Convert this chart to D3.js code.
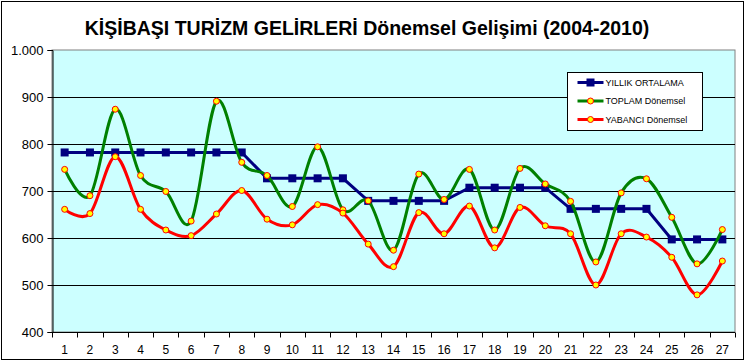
<!DOCTYPE html>
<html>
<head>
<meta charset="utf-8">
<script src="https://cdn.jsdelivr.net/npm/d3@7"></script>
<style>
  body { margin: 0; background: #fff; }
  text { font-family: "Liberation Sans", Arial, sans-serif; }
</style>
</head>
<body>
<div id="chart"></div>
<script>
var periods = d3.range(1, 28);
var yillik = [782, 782, 782, 782, 782, 782, 782, 782,
  727, 727, 727, 727,
  679, 679, 679, 679,
  707, 707, 707, 707,
  662, 662, 662, 662,
  597, 597, 597];
var toplam = [746, 690, 874, 733, 699, 636, 891, 761, 733, 667, 794, 660, 679, 574,
  736, 682, 746, 617, 748, 715, 678, 549, 696, 726, 644, 545, 618];
var yabanci = [661, 652, 773, 661, 617, 605, 651, 701, 640, 628, 671, 653, 587, 539,
  654, 609, 668, 579, 665, 626, 609, 500, 609, 602, 559, 479, 551];
var yTicks = [400, 500, 600, 700, 800, 900, 1000];
var seriesNames = ["YILLIK ORTALAMA", "TOPLAM Dönemsel", "YABANCI Dönemsel"];
var seriesColors = ["#000080", "#008000", "#ff0000"];

var svgWidth = 746;
var svgHeight = 362;
var margin = { top: 50, right: 11, bottom: 30, left: 52 };
var width = 735 - margin.left;
var height = 332 - margin.top;

var svg = d3.select("#chart").append("svg")
  .attr("width", svgWidth)
  .attr("height", svgHeight);

// outer frame
svg.append("rect")
  .attr("x", 1.5).attr("y", 1.5)
  .attr("width", 742).attr("height", 358)
  .attr("fill", "#fff").attr("stroke", "#000").attr("stroke-width", 1);

svg.append("text")
  .attr("x", 367).attr("y", 35)
  .attr("text-anchor", "middle")
  .style("font-size", "19.5px")
  .style("font-weight", "bold")
  .text("KİŞİBAŞI TURİZM GELİRLERİ Dönemsel Gelişimi (2004-2010)");

var g = svg.append("g")
  .attr("transform", `translate(${margin.left}, ${margin.top})`);

var x = d3.scaleBand().domain(periods).range([0, width]);
var y = d3.scaleLinear().domain([400, 1000]).range([height, 0]);

// plot area
g.append("rect")
  .attr("width", width).attr("height", height)
  .attr("fill", "#ccffff").attr("stroke", "#808080").attr("stroke-width", 1);

// grid lines
g.selectAll(".grid")
  .data(yTicks.filter(d => d > 400 && d < 1000))
  .enter().append("line")
  .attr("x1", 0).attr("x2", width)
  .attr("y1", d => Math.round(y(d)) + 0.5).attr("y2", d => Math.round(y(d)) + 0.5)
  .attr("stroke", "#000").attr("stroke-width", 1);

// y axis
var yAxis = g.append("g")
  .attr("transform", "translate(0.5,0)")
  .call(d3.axisLeft(y).tickValues(yTicks).tickSize(5).tickPadding(4)
    .tickFormat(d => d3.format(",")(d).replace(",", ".")));
yAxis.select(".domain").attr("stroke", "#000");
yAxis.selectAll("text").style("font-size", "13px").attr("fill", "#000");

// x axis with ticks between categories
var xAxis = g.append("g")
  .attr("transform", `translate(0, ${height + 0.5})`);
xAxis.append("line")
  .attr("x1", 0).attr("x2", width).attr("stroke", "#000");
xAxis.selectAll(".tk")
  .data(d3.range(0, 28))
  .enter().append("line")
  .attr("x1", d => Math.round(d * x.step()) + 0.5)
  .attr("x2", d => Math.round(d * x.step()) + 0.5)
  .attr("y1", 0).attr("y2", 5)
  .attr("stroke", "#000");
xAxis.selectAll(".lbl")
  .data(periods)
  .enter().append("text")
  .attr("x", d => x(d) + x.bandwidth() / 2)
  .attr("y", 21)
  .attr("text-anchor", "middle")
  .style("font-size", "12px")
  .text(d => d);

var cx = (d, i) => x(periods[i]) + x.bandwidth() / 2;
var smooth = d3.line().x(cx).y(d => y(d)).curve(d3.curveCatmullRom.alpha(0));
var straight = d3.line().x(cx).y(d => y(d));

// YILLIK ORTALAMA
g.append("path")
  .attr("d", straight(yillik))
  .attr("fill", "none").attr("stroke", seriesColors[0]).attr("stroke-width", 3);
g.selectAll(".sq")
  .data(yillik)
  .enter().append("rect")
  .attr("x", (d, i) => cx(d, i) - 4).attr("y", d => y(d) - 4)
  .attr("width", 8).attr("height", 8)
  .attr("fill", seriesColors[0]);

// TOPLAM and YABANCI
[toplam, yabanci].forEach(function (vals, k) {
  g.append("path")
    .attr("d", smooth(vals))
    .attr("fill", "none").attr("stroke", seriesColors[k + 1]).attr("stroke-width", 3);
  g.selectAll(".pt" + k)
    .data(vals)
    .enter().append("circle")
    .attr("cx", cx).attr("cy", d => y(d))
    .attr("r", 3)
    .attr("fill", "#ffff00").attr("stroke", "#ff0000").attr("stroke-width", 1);
});

// legend
var legend = svg.append("g").attr("transform", "translate(567.5, 72.5)");
legend.append("rect")
  .attr("width", 135).attr("height", 58)
  .attr("fill", "#fff").attr("stroke", "#000");
seriesNames.forEach(function (name, i) {
  var ly = 10 + i * 18.5;
  legend.append("line")
    .attr("x1", 10).attr("x2", 36).attr("y1", ly).attr("y2", ly)
    .attr("stroke", seriesColors[i]).attr("stroke-width", 3);
  if (i === 0) {
    legend.append("rect")
      .attr("x", 19).attr("y", ly - 4).attr("width", 8).attr("height", 8)
      .attr("fill", seriesColors[0]);
  } else {
    legend.append("circle")
      .attr("cx", 23).attr("cy", ly).attr("r", 3)
      .attr("fill", "#ffff00").attr("stroke", "#ff0000");
  }
  legend.append("text")
    .attr("x", 38).attr("y", ly + 3)
    .style("font-size", "9px")
    .text(name);
});
</script>
</body>
</html>
